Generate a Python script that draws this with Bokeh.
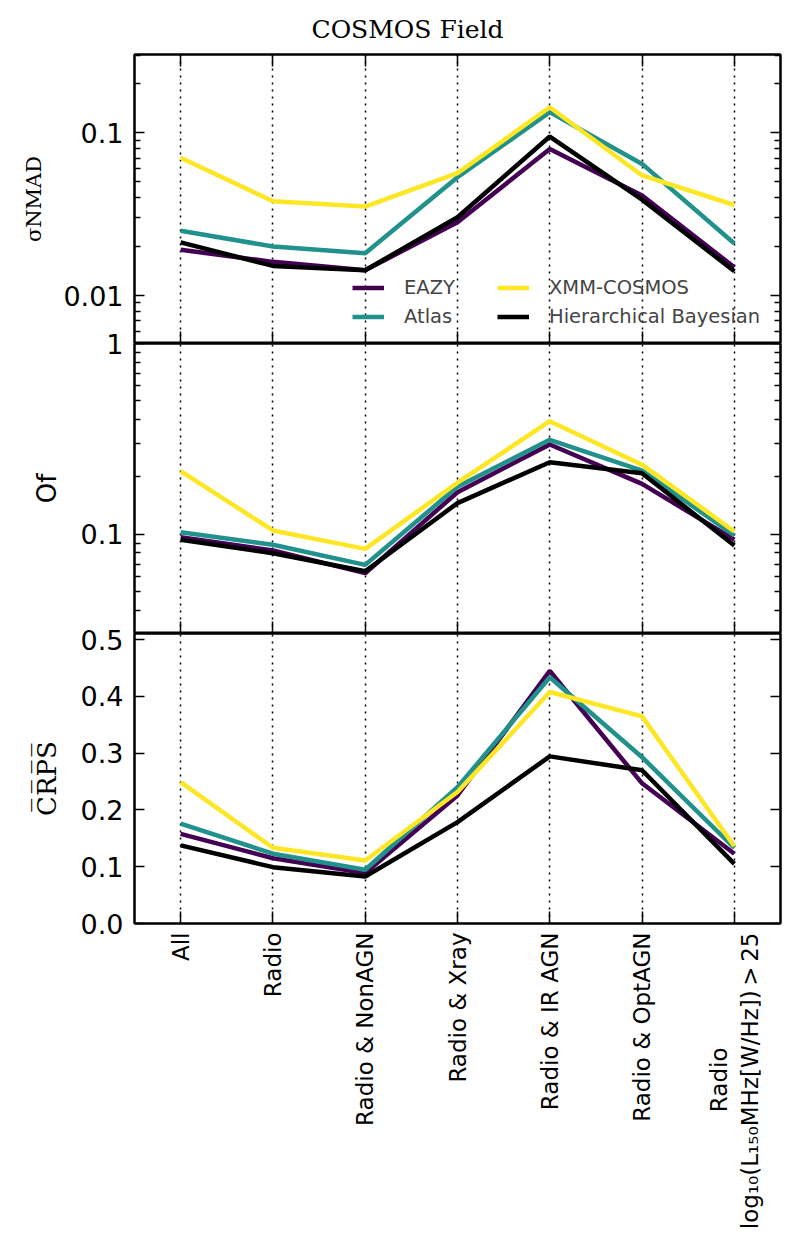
import math
from bokeh.plotting import figure
from bokeh.models import (Range1d, FactorRange, FixedTicker, LogAxis, LinearAxis, CategoricalAxis,
                          Legend, LegendItem, PrintfTickFormatter, BasicTickFormatter,
                          CustomJSTickFormatter)
from bokeh.layouts import column
from bokeh.embed import file_html
from bokeh.resources import INLINE

# ---------------- data ----------------
categories = ["All", "Radio", "Radio & NonAGN", "Radio & Xray", "Radio & IR AGN",
              "Radio & OptAGN",
              "Radio" + "\u2002" * 10 + "\nlog\u2081\u2080(L\u2081\u2085\u2080MHz[W/Hz])\u2009>\u200925"]
series_names = ["EAZY", "Atlas", "XMM-COSMOS", "Hierarchical Bayesian"]
series_colors = ["#440154", "#21918c", "#fde725", "#000000"]

sigma_eazy = [0.0191, 0.0161, 0.0143, 0.0282, 0.0796, 0.0412, 0.0149]
sigma_atlas = [0.0250, 0.0200, 0.0182, 0.0533, 0.1340, 0.0644, 0.0209]
sigma_xmm = [0.0702, 0.0380, 0.0352, 0.0565, 0.1437, 0.0547, 0.0360]
sigma_hb = [0.0212, 0.0152, 0.0143, 0.0303, 0.0949, 0.0388, 0.0141]

of_eazy = [0.0968, 0.0824, 0.0627, 0.1665, 0.296, 0.184, 0.0940]
of_atlas = [0.1028, 0.0883, 0.0693, 0.178, 0.313, 0.216, 0.0988]
of_xmm = [0.2144, 0.1050, 0.0841, 0.1866, 0.392, 0.232, 0.1037]
of_hb = [0.0938, 0.0798, 0.0642, 0.146, 0.239, 0.209, 0.0876]

crps_eazy = [0.158, 0.115, 0.0888, 0.2257, 0.445, 0.247, 0.123]
crps_atlas = [0.176, 0.123, 0.0947, 0.240, 0.434, 0.293, 0.133]
crps_xmm = [0.249, 0.1335, 0.111, 0.2316, 0.408, 0.365, 0.136]
crps_hb = [0.1376, 0.0993, 0.0829, 0.1787, 0.2945, 0.270, 0.105]

top_major = [0.01, 0.1]
top_minor = [0.006, 0.007, 0.008, 0.009, 0.02, 0.03, 0.04, 0.05, 0.06, 0.07, 0.08, 0.09, 0.2, 0.3]
mid_major = [0.1, 1.0]
mid_minor = [0.04, 0.05, 0.06, 0.07, 0.08, 0.09, 0.2, 0.3, 0.4, 0.5, 0.6, 0.7, 0.8, 0.9]
bot_major = [0.0, 0.1, 0.2, 0.3, 0.4, 0.5]

# ---------------- layout ----------------
FRAME_W = 646
OVERLAP = 20
xr = FactorRange(factors=categories, range_padding=0)


def style_left(ax, size="27px"):
    ax.major_label_text_font = "DejaVu Sans"
    ax.major_label_text_font_size = size
    ax.major_label_text_color = "black"
    ax.major_label_standoff = 11
    ax.axis_line_width = 2
    ax.axis_line_color = "black"
    ax.major_tick_in = 10
    ax.major_tick_out = 0
    ax.minor_tick_in = 6
    ax.minor_tick_out = 0
    ax.major_tick_line_width = 1.5
    ax.minor_tick_line_width = 1.5
    ax.major_tick_line_color = "black"
    ax.minor_tick_line_color = "black"


def style_ylabel(ax, text, font, size, standoff):
    ax.axis_label = text
    ax.axis_label_text_font = font
    ax.axis_label_text_font_size = size
    ax.axis_label_text_font_style = "normal"
    ax.axis_label_text_color = "black"
    ax.axis_label_standoff = standoff


def no_labels(ax):
    ax.formatter = CustomJSTickFormatter(code="return ''")
    ax.major_label_text_font_size = "1px"
    ax.major_label_standoff = 0


def make_fig(y_range, y_type, frame_h, top_border, margin_top):
    p = figure(x_range=xr, y_range=y_range, y_axis_type=y_type,
               frame_width=FRAME_W, frame_height=frame_h,
               x_axis_location="above", toolbar_location=None, output_backend="svg",
               min_border_left=134, min_border_right=10, min_border_top=top_border,
               min_border_bottom=0, margin=(margin_top, 0, 0, 0))
    p.outline_line_color = "black"
    p.outline_line_width = 2
    p.border_fill_alpha = 0
    p.background_fill_color = "white"
    p.ygrid.visible = False
    p.xgrid.grid_line_color = "black"
    p.xgrid.grid_line_dash = "2 5"
    p.xgrid.grid_line_width = 1.5
    top_ax = p.xaxis[0]
    top_ax.axis_line_width = 2
    top_ax.major_tick_line_width = 1.5
    no_labels(top_ax)
    return p


def add_lines(p, ys):
    rs = []
    for name, col, y in zip(series_names, series_colors, ys):
        rs.append(p.line(categories, y, line_color=col, line_width=4.5))
    return rs


# ---- top panel ----
p1 = make_fig(Range1d(0.00507, 0.303), "log", 289, 54, 0)
p1.xaxis[0].major_tick_in = 12
p1.xaxis[0].major_tick_out = 0
p1.yaxis[0].ticker = FixedTicker(ticks=top_major, minor_ticks=top_minor)
p1.yaxis[0].formatter = BasicTickFormatter()
style_left(p1.yaxis[0])
style_ylabel(p1.yaxis[0], "\u03c3NMAD", "DejaVu Serif", "21px", 14)
r1 = LogAxis(ticker=FixedTicker(ticks=top_major, minor_ticks=top_minor))
style_left(r1)
no_labels(r1)
p1.add_layout(r1, "right")
p1.title.text = "COSMOS Field"
p1.title.text_font = "DejaVu Serif"
p1.title.text_font_size = "25px"
p1.title.text_font_style = "normal"
p1.title.text_color = "black"
p1.title.align = "left"
p1.title.offset = 177
p1.title.standoff = 21
rend1 = add_lines(p1, [sigma_eazy, sigma_atlas, sigma_xmm, sigma_hb])
legend = Legend(items=[LegendItem(label=n, renderers=[r]) for n, r in zip(series_names, rend1)],
                ncols=2, location=(218, 14), border_line_alpha=0, background_fill_alpha=0,
                padding=0, margin=0, spacing=4, label_standoff=20, glyph_width=32,
                glyph_height=25, label_height=25, label_width=89,
                label_text_font="DejaVu Sans", label_text_font_size="19.5px")
p1.add_layout(legend)

# ---- middle panel ----
p2 = make_fig(Range1d(0.0303, 1.0), "log", 290, OVERLAP, -OVERLAP)
p2.xaxis[0].major_tick_in = 0
p2.xaxis[0].major_tick_out = 12
p2.yaxis[0].ticker = FixedTicker(ticks=mid_major, minor_ticks=mid_minor)
p2.yaxis[0].formatter = BasicTickFormatter()
style_left(p2.yaxis[0])
style_ylabel(p2.yaxis[0], "Of", "DejaVu Sans", "26px", 16)
r2 = LogAxis(ticker=FixedTicker(ticks=mid_major, minor_ticks=mid_minor))
style_left(r2)
no_labels(r2)
p2.add_layout(r2, "right")
add_lines(p2, [of_eazy, of_atlas, of_xmm, of_hb])

# ---- bottom panel ----
p3 = make_fig(Range1d(0.0, 0.511), "linear", 290, OVERLAP, -OVERLAP)
p3.xaxis[0].major_tick_in = 0
p3.xaxis[0].major_tick_out = 12
p3.yaxis[0].ticker = FixedTicker(ticks=bot_major)
p3.yaxis[0].formatter = PrintfTickFormatter(format="%.1f")
style_left(p3.yaxis[0])
style_ylabel(p3.yaxis[0], "C\u0305R\u0305P\u0305S\u0305", "DejaVu Serif", "26px", 16)
r3 = LinearAxis(ticker=FixedTicker(ticks=bot_major))
style_left(r3)
no_labels(r3)
p3.add_layout(r3, "right")
bx = CategoricalAxis()
bx.axis_line_width = 2
bx.major_tick_in = 12
bx.major_tick_out = 0
bx.major_tick_line_width = 1.5
bx.major_label_orientation = math.pi / 2
bx.major_label_text_font = "DejaVu Sans"
bx.major_label_text_font_size = "23px"
bx.major_label_text_color = "black"
bx.major_label_standoff = 9
p3.add_layout(bx, "below")
add_lines(p3, [crps_eazy, crps_atlas, crps_xmm, crps_hb])

layout = column(p1, p2, p3, spacing=0)
open("out.html", "w").write(file_html(layout, INLINE))
